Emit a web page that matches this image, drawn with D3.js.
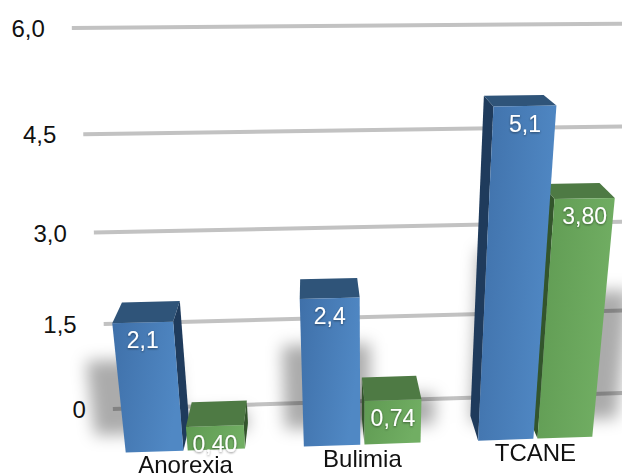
<!DOCTYPE html>
<html>
<head>
<meta charset="utf-8">
<script src="https://cdn.jsdelivr.net/npm/d3@7"></script>
<style>
  html, body { margin: 0; background: #fff; }
  svg { display: block; }
</style>
</head>
<body>
<svg id="chart" width="622" height="474"></svg>
<script>
// 数据
const categories = ["Anorexia", "Bulimia", "TCANE"];
const seriesKeys = ["s1", "s2"];
const blueValues = [2.1, 2.4, 5.1];
const greenValues = [0.4, 0.74, 3.8];
const blueLabels = ["2,1", "2,4", "5,1"];
const greenLabels = ["0,40", "0,74", "3,80"];
const yTicks = [0, 1.5, 3, 4.5, 6];
const yTickLabels = ["0", "1,5", "3,0", "4,5", "6,0"];

const svg = d3.select("#chart");
const defs = svg.append("defs");

// 相机参数（透视投影）
const cam = { x: 0, y: 58.74, z: -101.76 };
const focal = 929, ox = 370, oy = 237;
const pitch = (19.94 * Math.PI) / 180;
const yaw = (3.53 * Math.PI) / 180;

function project([X, Y, Z]) {
  const px = X - cam.x, py = Y - cam.y, pz = Z - cam.z;
  const x1 = px * Math.cos(yaw) - pz * Math.sin(yaw);
  const z1 = pz * Math.cos(yaw) + px * Math.sin(yaw);
  const zc = z1 * Math.cos(pitch) - py * Math.sin(pitch);
  const yc = py * Math.cos(pitch) + z1 * Math.sin(pitch);
  return [ox + (focal * x1) / zc, oy - (focal * yc) / zc];
}
const poly = (pts) => "M" + pts.map((p) => project(p).join(",")).join("L") + "Z";

// 比例尺（世界坐标）
const y = d3.scaleLinear().domain([0, 6]).range([0, 46]);
const x = d3
  .scaleBand()
  .domain(categories)
  .range([-25.35, 34.95])
  .paddingInner(0.333)
  .paddingOuter(0.1667);
const xs = d3.scaleBand().domain(seriesKeys).range([0, x.bandwidth()]).paddingInner(0.07);
const zFront = -9.8, zBack = -4.3;
const wallX0 = x.range()[0], wallX1 = x.range()[1] + 6;
const midX = (x.range()[0] + x.range()[1]) / 2;

const colors = {
  s1: { left: "#3f70a9", right: "#5088c4", top: "#2f5479", side: "#1f3b5c" },
  s2: { left: "#5f9a52", right: "#71ae63", top: "#4e7a44", side: "#33552c" },
};

// 渐变
seriesKeys.forEach((k) => {
  const g = defs.append("linearGradient").attr("id", "front-" + k)
    .attr("x1", 0).attr("y1", 0).attr("x2", 1).attr("y2", 0.3);
  g.append("stop").attr("offset", "0%").attr("stop-color", colors[k].left);
  g.append("stop").attr("offset", "100%").attr("stop-color", colors[k].right);
});
const blur = defs.append("filter").attr("id", "blur")
  .attr("x", "-60%").attr("y", "-60%").attr("width", "220%").attr("height", "220%");
blur.append("feGaussianBlur").attr("stdDeviation", 8);
const ts = defs.append("filter").attr("id", "tshadow")
  .attr("x", "-20%").attr("y", "-20%").attr("width", "140%").attr("height", "160%");
ts.append("feDropShadow").attr("dx", 0).attr("dy", 1).attr("stdDeviation", 0.8)
  .attr("flood-color", "#000").attr("flood-opacity", 0.45);

// 柱子数据
const bars = [];
categories.forEach((c, i) => {
  bars.push({ cat: c, key: "s1", value: blueValues[i], label: blueLabels[i] });
  bars.push({ cat: c, key: "s2", value: greenValues[i], label: greenLabels[i] });
});
bars.forEach((d) => {
  d.x0 = x(d.cat) + xs(d.key);
  d.x1 = d.x0 + xs.bandwidth();
  d.h = y(d.value);
});

// 网格线
const font = "'Liberation Sans', Arial, Helvetica, sans-serif";
svg.append("g").selectAll("line").data(yTicks).enter().append("line")
  .attr("x1", (t) => project([wallX0, y(t), 0])[0])
  .attr("y1", (t) => project([wallX0, y(t), 0])[1])
  .attr("x2", (t) => project([wallX1, y(t), 0])[0])
  .attr("y2", (t) => project([wallX1, y(t), 0])[1])
  .attr("stroke", "#c2c2c2")
  .attr("stroke-width", 4);

// Y轴标签
svg.append("g").selectAll("text").data(yTicks).enter().append("text")
  .attr("x", (t) => project([wallX0, y(t), 0])[0] - 27)
  .attr("y", (t) => project([wallX0, y(t), 0])[1] + 9)
  .attr("text-anchor", "end")
  .style("font-family", font)
  .style("font-size", "24px")
  .style("fill", "#111")
  .text((t, i) => yTickLabels[i]);

// 阴影（向外偏移，中间的被柱子挡住）
const spread = (v) => midX + (v - midX) * 1.12;
svg.append("g").attr("filter", "url(#blur)").selectAll("path").data(bars).enter().append("path")
  .attr("d", (d) => poly([
    [spread(d.x0) - 1.5, -1, zBack], [spread(d.x1) + 1.5, -1, zBack],
    [spread(d.x1) + 1.5, d.h * 0.55, zBack], [spread(d.x0) - 1.5, d.h * 0.55, zBack],
  ]))
  .attr("fill", "#000")
  .attr("opacity", 0.33);

// 柱子（远的先画）
const order = bars.slice().sort(
  (a, b) => Math.abs((b.x0 + b.x1) / 2 - cam.x) - Math.abs((a.x0 + a.x1) / 2 - cam.x)
);
const barG = svg.append("g").selectAll("g").data(order).enter().append("g");

barG.filter((d) => cam.x < d.x0).append("path")
  .attr("d", (d) => poly([[d.x0, 0, zFront], [d.x0, d.h, zFront], [d.x0, d.h, zBack], [d.x0, 0, zBack]]))
  .attr("fill", (d) => colors[d.key].side);
barG.filter((d) => cam.x > d.x1).append("path")
  .attr("d", (d) => poly([[d.x1, 0, zFront], [d.x1, d.h, zFront], [d.x1, d.h, zBack], [d.x1, 0, zBack]]))
  .attr("fill", (d) => colors[d.key].side);
barG.append("path")
  .attr("d", (d) => poly([[d.x0, d.h, zFront], [d.x1, d.h, zFront], [d.x1, d.h, zBack], [d.x0, d.h, zBack]]))
  .attr("fill", (d) => colors[d.key].top);
barG.append("path")
  .attr("d", (d) => poly([[d.x0, 0, zFront], [d.x1, 0, zFront], [d.x1, d.h, zFront], [d.x0, d.h, zFront]]))
  .attr("fill", (d) => "url(#front-" + d.key + ")");

// 数值标签
svg.append("g").selectAll("text").data(bars).enter().append("text")
  .attr("x", (d) => project([(d.x0 + d.x1) / 2, d.h, zFront])[0])
  .attr("y", (d) => project([(d.x0 + d.x1) / 2, d.h, zFront])[1] + 26)
  .attr("text-anchor", "middle")
  .attr("filter", "url(#tshadow)")
  .style("font-family", font)
  .style("font-size", "23px")
  .style("fill", "#fff")
  .text((d) => d.label);

// 类别标签
svg.append("g").selectAll("text").data(categories).enter().append("text")
  .attr("x", (c) => project([x(c) + x.bandwidth() / 2, 0, zFront])[0])
  .attr("y", (c) => project([x(c) + x.bandwidth() / 2, 0, zFront])[1] + 22)
  .attr("text-anchor", "middle")
  .style("font-family", font)
  .style("font-size", "24px")
  .style("fill", "#111")
  .text((c) => c);
</script>
</body>
</html>
